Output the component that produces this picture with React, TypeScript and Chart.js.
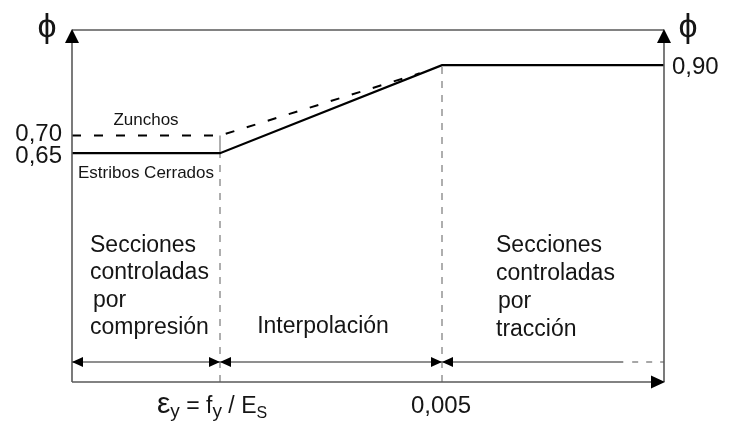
import React, { useEffect, useRef } from "react";
import { Chart, registerables } from "chart.js";

Chart.register(...registerables);

// ---- data ----
const strainPoints = [0, 0.002, 0.005, 0.008];
const phiEstribos = [0.65, 0.65, 0.9, 0.9];
const strainZunchos = [0, 0.002, 0.0047];
const phiZunchos = [0.7, 0.7, 0.877];
const yTickValues = [0.65, 0.7, 0.9];
const yTickLabels = ["0,65", "0,70", "0,90"];
const xTickValues = [0.002, 0.005];
const xTickLabels = ["εy = fy / Es", "0,005"];
const regionLeftLines = ["Secciones", "controladas", "por", "compresión"];
const regionMidLabel = "Interpolación";
const regionRightLines = ["Secciones", "controladas", "por", "tracción"];
const seriesLabels = ["Estribos Cerrados", "Zunchos"];
const dimLevel = 0.057;
const dimSolidEnd = 0.00745;

const FONT = "'Liberation Sans', Arial, sans-serif";
const TXT = "#151515";
const GRAY = "#5a5a5a";

const overlay = {
  id: "overlay",
  afterDatasetsDraw(chart: any) {
    const ctx = chart.ctx as CanvasRenderingContext2D;
    const xs = chart.scales.x;
    const ys = chart.scales.y;
    const X = (v: number) => xs.getPixelForValue(v);
    const Y = (v: number) => ys.getPixelForValue(v);
    const L = X(0), R = X(0.008), T = Y(1), B = Y(0);
    ctx.save();

    // frame / axes
    ctx.strokeStyle = GRAY;
    ctx.lineWidth = 1.6;
    ctx.setLineDash([]);
    ctx.beginPath();
    ctx.moveTo(L, B); ctx.lineTo(L, T + 4);
    ctx.moveTo(R, B); ctx.lineTo(R, T + 4);
    ctx.moveTo(L, T); ctx.lineTo(R, T);
    ctx.moveTo(L, B); ctx.lineTo(R - 6, B);
    ctx.stroke();

    const tri = (x1: number, y1: number, x2: number, y2: number, x3: number, y3: number) => {
      ctx.fillStyle = "#000";
      ctx.beginPath();
      ctx.moveTo(x1, y1); ctx.lineTo(x2, y2); ctx.lineTo(x3, y3); ctx.closePath();
      ctx.fill();
    };
    // up arrows
    tri(L, T - 1, L - 7, T + 13, L + 7, T + 13);
    tri(R, T - 1, R - 7, T + 13, R + 7, T + 13);
    // right arrow on x axis
    tri(R + 1, B, R - 13, B - 6.5, R - 13, B + 6.5);

    // dimension arrows
    const dy = Y(dimLevel);
    const aL = 11, aH = 5;
    tri(L, dy, L + aL, dy - aH, L + aL, dy + aH);
    for (const v of xTickValues) {
      const px = X(v);
      tri(px, dy, px - aL, dy - aH, px - aL, dy + aH);
      tri(px, dy, px + aL, dy - aH, px + aL, dy + aH);
    }

    // phi symbols
    ctx.fillStyle = TXT;
    ctx.font = `34px ${FONT}`;
    ctx.textAlign = "center";
    ctx.textBaseline = "alphabetic";
    ctx.fillText("ϕ", L - 25, 37);
    ctx.fillText("ϕ", R + 24, 37);

    // y tick labels
    ctx.font = `24px ${FONT}`;
    yTickValues.forEach((v, i) => {
      if (v === 0.9) {
        ctx.textAlign = "left";
        ctx.fillText(yTickLabels[i], R + 8, Y(v) + 9);
      } else {
        ctx.textAlign = "right";
        ctx.fillText(yTickLabels[i], L - 10, Y(v) + (v === 0.65 ? 10 : 5));
      }
    });

    // series labels
    ctx.font = `17px ${FONT}`;
    ctx.textAlign = "center";
    const midLeft = (X(0) + X(0.002)) / 2;
    ctx.fillText(seriesLabels[1], midLeft, Y(0.7) - 11);
    ctx.fillText(seriesLabels[0], midLeft, Y(0.65) + 25);

    // region labels
    ctx.font = `23px ${FONT}`;
    ctx.textAlign = "left";
    const leftBase = [252, 279, 307, 334];
    regionLeftLines.forEach((t, i) => {
      ctx.fillText(t, L + 18 + (i === 2 ? 3 : 0), leftBase[i]);
    });
    const rightBase = [252, 280, 308, 336];
    regionRightLines.forEach((t, i) => {
      ctx.fillText(t, X(0.005) + 54 + (i === 2 ? 2 : 0), rightBase[i]);
    });
    ctx.textAlign = "center";
    ctx.fillText(regionMidLabel, (X(0.002) + X(0.005)) / 2 - 8, 333);

    // x tick labels
    ctx.font = `24px ${FONT}`;
    ctx.textAlign = "center";
    ctx.fillText(xTickLabels[1], X(0.005) - 1, 413);

    // eps_y = f_y / E_s with subscripts
    ctx.textAlign = "left";
    let cx = X(0.002) - 63;
    const seg = (t: string, size: number, base: number) => {
      ctx.font = `${size}px ${FONT}`;
      ctx.fillText(t, cx, base);
      cx += ctx.measureText(t).width;
    };
    seg("ε", 30, 413);
    seg("y", 19, 417);
    seg(" = f", 23, 413);
    seg("y", 19, 417);
    seg(" / E", 23, 413);
    seg("S", 16, 418);

    ctx.restore();
  },
};

export default function App() {
  const ref = useRef<HTMLCanvasElement>(null);
  useEffect(() => {
    if (!ref.current) return;
    const pts = (xs: number[], ys: number[]) => xs.map((x, i) => ({ x, y: ys[i] }));
    const chart = new Chart(ref.current, {
      type: "line",
      data: {
        datasets: [
          {
            label: seriesLabels[0],
            data: pts(strainPoints, phiEstribos),
            borderColor: "#000",
            borderWidth: 2.2,
            pointRadius: 0,
            tension: 0,
          },
          {
            label: seriesLabels[1],
            data: pts(strainZunchos, phiZunchos),
            borderColor: "#000",
            borderWidth: 2,
            borderDash: [9, 13],
            pointRadius: 0,
            tension: 0,
          },
          {
            label: "v1",
            data: pts([xTickValues[0], xTickValues[0]], [0, 0.65]),
            borderColor: "#7a7a7a",
            borderWidth: 1.2,
            borderDash: [7, 7],
            pointRadius: 0,
          },
          {
            label: "v1b",
            data: pts([xTickValues[0], xTickValues[0]], [0.65, 0.7]),
            borderColor: "#7a7a7a",
            borderWidth: 1.2,
            pointRadius: 0,
          },
          {
            label: "v2",
            data: pts([xTickValues[1], xTickValues[1]], [0, 0.9]),
            borderColor: "#7a7a7a",
            borderWidth: 1.2,
            borderDash: [7, 7],
            pointRadius: 0,
          },
          {
            label: "dim",
            data: pts([0, dimSolidEnd], [dimLevel, dimLevel]),
            borderColor: "#6a6a6a",
            borderWidth: 1.5,
            pointRadius: 0,
          },
          {
            label: "dim2",
            data: pts([dimSolidEnd + 0.00012, 0.008], [dimLevel, dimLevel]),
            borderColor: "#8a8a8a",
            borderWidth: 1.5,
            borderDash: [6, 8],
            pointRadius: 0,
          },
        ],
      },
      options: {
        responsive: false,
        animation: false,
        layout: { padding: { left: 72, right: 74, top: 30, bottom: 41 } },
        plugins: { legend: { display: false }, tooltip: { enabled: false } },
        scales: {
          x: { type: "linear", min: 0, max: 0.008, display: false },
          y: { type: "linear", min: 0, max: 1, display: false },
        },
      },
      plugins: [overlay],
    });
    return () => chart.destroy();
  }, []);
  return (
    <div style={{ position: "fixed", left: 0, top: 0, width: 738, height: 423, background: "#fff" }}>
      <canvas ref={ref} width={738} height={423} />
    </div>
  );
}
